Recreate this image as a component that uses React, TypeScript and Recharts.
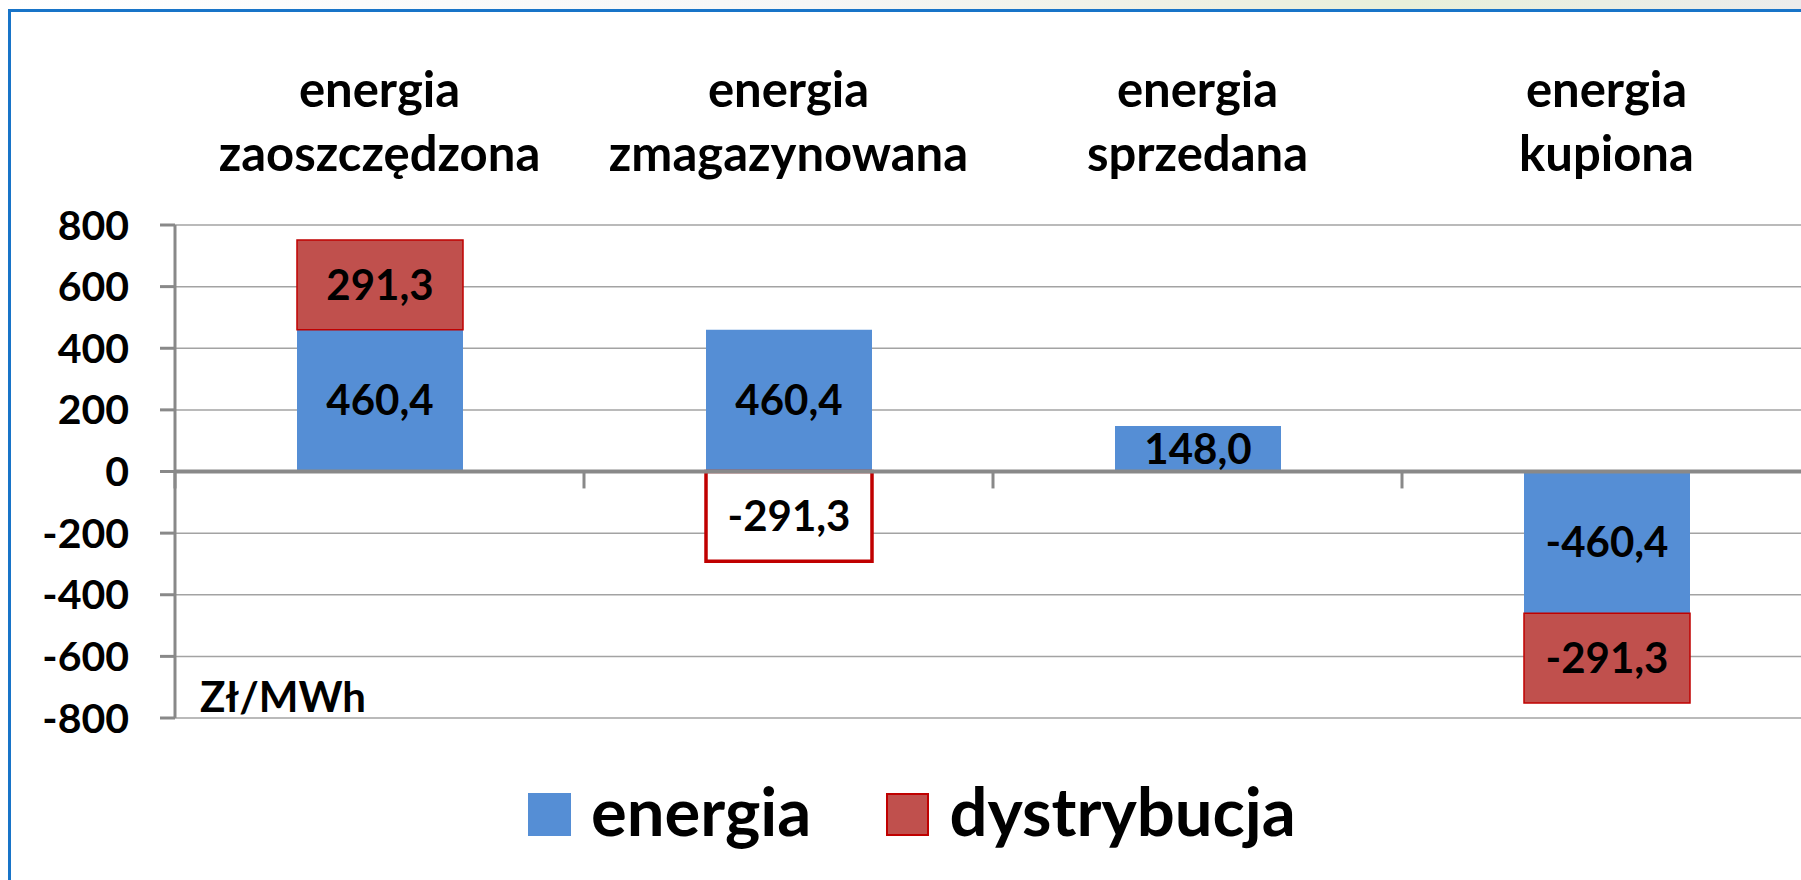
import React from 'react';
import {
  BarChart,
  Bar,
  XAxis,
  YAxis,
  CartesianGrid,
  ReferenceLine,
  Legend,
  Cell,
  LabelList,
} from 'recharts';

const FONT = 'Lato, "Open Sans", sans-serif';

const categories = ['energia zaoszczędzona', 'energia zmagazynowana', 'energia sprzedana', 'energia kupiona'];
const energia = [460.4, 460.4, 148.0, -460.4];
const dystrybucja: (number | null)[] = [291.3, -291.3, null, -291.3];
const yTicks = [-800, -600, -400, -200, 0, 200, 400, 600, 800];
const seriesNames = ['energia', 'dystrybucja'];

const BLUE = '#558ed5';
const RED = '#c0504d';
const DARK_RED = '#c00000';
const AXIS = '#898989';

const data = categories.map((name, i) => ({
  name,
  energia: energia[i],
  dystrybucja: dystrybucja[i],
}));

const fmt = (v: any) => (v == null ? '' : Number(v).toFixed(1).replace('.', ','));

// two-line category labels above the plot
const CategoryTick = (props: any) => {
  const { x, y, payload } = props;
  const lines = String(payload.value).split(' ');
  return (
    <g>
      {lines.map((line: string, i: number) => (
        <text
          key={i}
          x={x}
          y={y - 118 + i * 64}
          textAnchor="middle"
          fontFamily={FONT}
          fontWeight={700}
          fontSize={49}
          fill="#000"
        >
          {line}
        </text>
      ))}
    </g>
  );
};

const LegendContent = () => (
  <div
    style={{
      display: 'flex',
      alignItems: 'flex-start',
      paddingLeft: 528,
      height: 60,
      fontFamily: FONT,
      fontWeight: 700,
      fontSize: 67,
      lineHeight: '60px',
      color: '#000',
    }}
  >
    {seriesNames.map((s, i) => (
      <div key={s} style={{ display: 'flex', alignItems: 'flex-start', marginRight: 75 }}>
        <span
          style={{
            display: 'inline-block',
            width: 43,
            height: 43,
            marginTop: 13,
            marginRight: 20,
            boxSizing: 'border-box',
            background: i === 0 ? BLUE : RED,
            border: i === 0 ? 'none' : `2px solid ${DARK_RED}`,
          }}
        />
        <span>{s}</span>
      </div>
    ))}
  </div>
);

export default function App() {
  return (
    <div
      style={{
        position: 'fixed',
        left: 0,
        top: 0,
        width: 1801,
        height: 880,
        overflow: 'hidden',
        background: '#fff',
      }}
    >
      <div
        style={{
          position: 'absolute',
          left: 0,
          top: 0,
          width: 1801,
          height: 9,
          background: 'linear-gradient(90deg, #ffffff 0%, #f6f6f6 45%, #eef0e2 68%, #e8f0da 78%, #ececec 100%)',
        }}
      />
      <div
        style={{
          position: 'absolute',
          left: 8,
          top: 9,
          width: 2000,
          height: 1000,
          borderLeft: '3px solid #1874c8',
          borderTop: '3px solid #1874c8',
        }}
      />
      <div style={{ position: 'absolute', left: 0, top: 0 }}>
        <BarChart
          width={1820}
          height={880}
          data={data}
          stackOffset="sign"
          margin={{ top: 0, right: 9, left: 0, bottom: 102 }}
        >
          <CartesianGrid vertical={false} stroke="#a3a3a3" strokeWidth={1.5} />
          <XAxis
            dataKey="name"
            orientation="top"
            height={225}
            axisLine={false}
            tickLine={false}
            tickSize={0}
            tickMargin={0}
            interval={0}
            tick={<CategoryTick />}
          />
          <YAxis
            width={175}
            domain={[-800, 800]}
            ticks={yTicks}
            interval={0}
            allowDataOverflow
            axisLine={{ stroke: AXIS, strokeWidth: 3 }}
            tickLine={{ stroke: AXIS, strokeWidth: 3 }}
            tickSize={15}
            tickMargin={31}
            tick={{ fontFamily: FONT, fontWeight: 700, fontSize: 41, fill: '#000' }}
          />
          <Bar dataKey="energia" stackId="a" fill={BLUE} barSize={166} isAnimationActive={false}>
            <LabelList
              dataKey="energia"
              position="center"
              formatter={fmt}
              fill="#000"
              fontFamily={FONT}
              fontWeight={700}
              fontSize={42}
            />
          </Bar>
          <Bar dataKey="dystrybucja" stackId="a" fill={RED} barSize={166} isAnimationActive={false}>
            {data.map((d, i) => (
              <Cell
                key={i}
                fill={i === 1 ? '#ffffff' : RED}
                stroke={DARK_RED}
                strokeWidth={i === 1 ? 3.5 : 1.5}
              />
            ))}
            <LabelList
              dataKey="dystrybucja"
              position="center"
              formatter={fmt}
              fill="#000"
              fontFamily={FONT}
              fontWeight={700}
              fontSize={42}
            />
          </Bar>
          <ReferenceLine y={0} stroke={AXIS} strokeWidth={4} />
          {/* category boundary ticks hanging below the zero line */}
          {categories.map((c) => (
            <ReferenceLine
              key={c}
              segment={[{ x: c, y: 0 }, { x: c, y: -55 }]}
              position="start"
              stroke={AXIS}
              strokeWidth={3}
              ifOverflow="visible"
            />
          ))}
          <Legend
            verticalAlign="bottom"
            wrapperStyle={{ top: 780, bottom: 'auto', left: 0, width: 1801, height: 60 }}
            content={() => <LegendContent />}
          />
        </BarChart>
      </div>
      <div
        style={{
          position: 'absolute',
          left: 200,
          top: 672,
          fontFamily: FONT,
          fontWeight: 700,
          fontSize: 42,
          lineHeight: '48px',
          color: '#000',
        }}
      >
        Zł/MWh
      </div>
    </div>
  );
}
